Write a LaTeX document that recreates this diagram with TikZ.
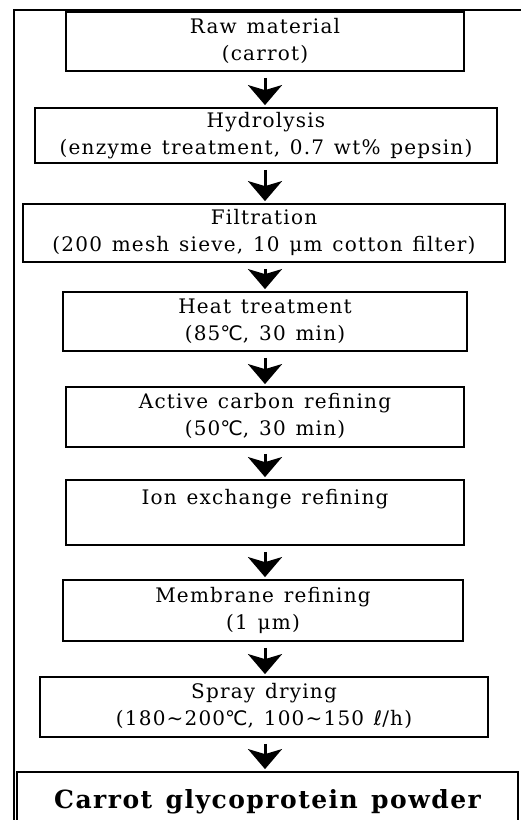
\documentclass[tikz,border=0pt]{standalone}
\usepackage{fontspec}
\setmainfont{DejaVu Serif}[LetterSpace=6,WordSpace=1.3]
\newfontfamily\symf{DejaVu Sans}[LetterSpace=6]
\newfontfamily\bigf{DejaVu Serif}[LetterSpace=6,WordSpace=1.3]
\usetikzlibrary{arrows.meta}
\newcommand{\degC}{{\symf ℃}}
\newcommand{\litre}{{\symf ℓ}}
\begin{document}
\begin{tikzpicture}[x=1pt,y=-1pt,
  stepbox/.style={draw, line width=1.8pt, inner sep=0pt, align=center,
    font=\fontsize{20}{27}\selectfont},
  conn/.style={line width=3pt, -{Stealth[length=20pt,width=34pt,inset=5pt]},
    shorten <=6pt, shorten >=2pt}
]
\useasboundingbox (0,0) rectangle (521,820);
\clip (0,0) rectangle (521,820);
\coordinate (fb) at (14,840);
\coordinate (fc) at (14,10);
\coordinate (fr) at (540,10);
\draw[line width=1.2pt] (fb) -- (fc) -- (fr);

\node[stepbox, minimum width=398pt, minimum height=59pt] (raw) at (265,41.5)
  {\strut Raw material\\\strut(carrot)};
\node[stepbox, minimum width=462pt, minimum height=55pt] (hyd) at (266,135.5)
  {\strut Hydrolysis\\\strut(enzyme treatment, 0.7 wt\% pepsin)};
\node[stepbox, minimum width=482pt, minimum height=58pt] (fil) at (264,233)
  {\strut Filtration\\\strut(200 mesh sieve, 10 μm cotton filter)};
\node[stepbox, minimum width=404pt, minimum height=59pt] (heat) at (265,321.5)
  {\strut Heat treatment\\\strut(85\degC, 30 min)};
\node[stepbox, minimum width=398pt, minimum height=60pt] (act) at (265,417)
  {\strut Active carbon refining\\\strut(50\degC, 30 min)};
\node[stepbox, minimum width=398pt, minimum height=65pt] (ion) at (265,512.5)
  {\strut Ion exchange refining\\\strut};
\node[stepbox, minimum width=400pt, minimum height=61pt] (mem) at (263,610.5)
  {\strut Membrane refining\\\strut(1 μm)};
\node[stepbox, minimum width=448pt, minimum height=60pt] (spr) at (264,707)
  {\strut Spray drying\\\strut(180\textasciitilde200\degC, 100\textasciitilde150 \litre/h)};
\node[stepbox, minimum width=501pt, minimum height=60pt,
  font=\bigf\fontsize{25}{30}\selectfont\bfseries] (car) at (267.5,802)
  {\strut Carrot glycoprotein powder};

\draw[conn] (raw.south -| 265,0) -- (265,0 |- hyd.north);
\draw[conn] (hyd.south -| 265,0) -- (265,0 |- fil.north);
\draw[conn] (fil.south -| 265,0) -- (265,0 |- heat.north);
\draw[conn] (heat.south -| 265,0) -- (265,0 |- act.north);
\draw[conn] (act.south -| 265,0) -- (265,0 |- ion.north);
\draw[conn] (ion.south -| 265,0) -- (265,0 |- mem.north);
\draw[conn] (mem.south -| 265,0) -- (265,0 |- spr.north);
\draw[conn] (spr.south -| 265,0) -- (265,0 |- car.north);
\end{tikzpicture}
\end{document}
